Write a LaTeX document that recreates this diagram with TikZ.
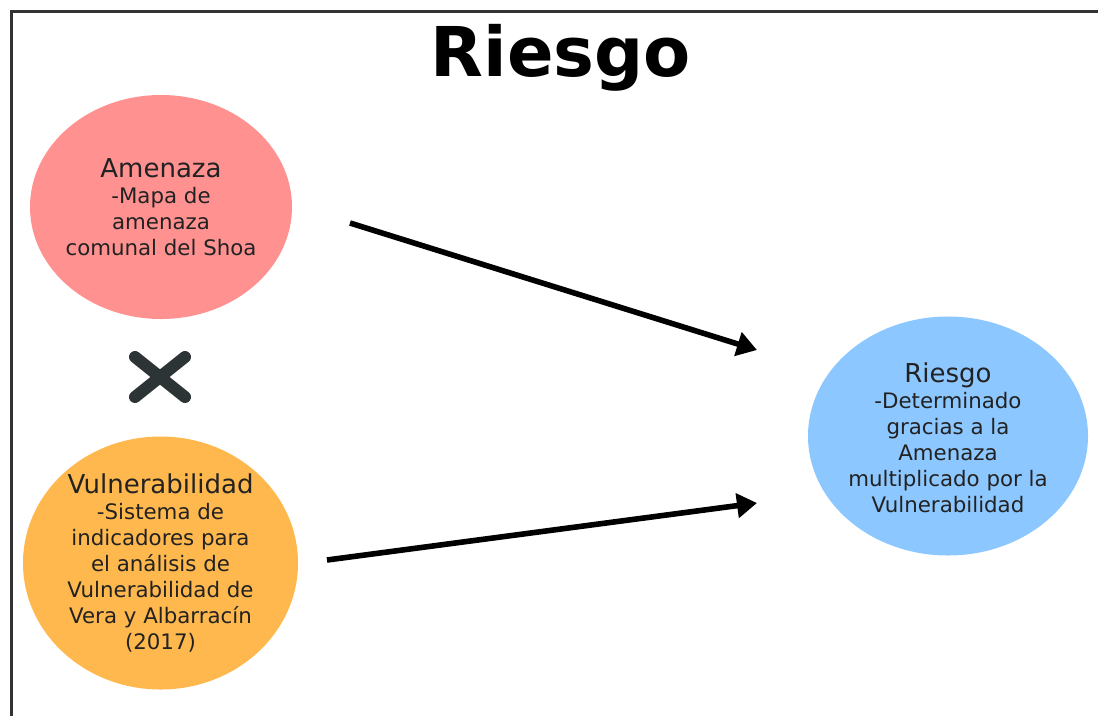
\documentclass[tikz,border=0pt]{standalone}
\usepackage{fontspec}
\setmainfont{DejaVu Sans}
\usepackage{tikz}
\usetikzlibrary{shapes,arrows,arrows.meta}

\definecolor{rosa}{RGB}{255,145,145}
\definecolor{naranja}{RGB}{255,184,77}
\definecolor{celeste}{RGB}{140,199,255}
\definecolor{texto}{RGB}{34,34,34}
\definecolor{cruz}{RGB}{45,52,54}

\tikzset{
  bubble/.style={ellipse, inner sep=0pt},
  rotulo/.style={align=center, text=texto, inner sep=0pt,
    font=\fontsize{16}{19.5}\selectfont},
  flecha/.style={-{Triangle[length=15pt,width=18pt]}, line width=4.2pt},
}
\newcommand{\encabezado}[1]{{\fontsize{19.5}{19.5}\selectfont #1}}

\begin{document}
\begin{tikzpicture}[x=0.75pt,y=0.75pt,yscale=-1,xscale=1]
    \useasboundingbox (0,0) rectangle (1098,715);

    % frame
    \draw [line width=2.25pt, color={rgb,255:red,51;green,51;blue,51}] (11,730) -- (11,11) -- (1110,11) ;

    % title
    \node (titulo) at (561,58) {\fontsize{51.5}{60}\selectfont\bfseries Riesgo};

    % bubbles
    \node [bubble, fill=rosa, minimum width=196.5pt, minimum height=168pt] (amenaza) at (161,207) {};
    \node [bubble, fill=naranja, minimum width=206.25pt, minimum height=189.75pt] (vulnerabilidad) at (160.5,563) {};
    \node [bubble, fill=celeste, minimum width=210pt, minimum height=179.25pt] (riesgo) at (948,436) {};

    % texts
    \node [rotulo] (amenaza-txt) at (amenaza)
      {\encabezado{Amenaza}\\-Mapa de\\amenaza\\comunal del Shoa};
    \node [rotulo] (vulnerabilidad-txt) at (vulnerabilidad)
      {\encabezado{Vulnerabilidad}\\-Sistema de\\indicadores para\\el análisis de\\Vulnerabilidad de\\Vera y Albarracín\\(2017)};
    \node [rotulo] (riesgo-txt) at ([yshift=1.5]riesgo.center)
      {\encabezado{Riesgo}\\-Determinado\\gracias a la\\Amenaza\\multiplicado por la\\Vulnerabilidad};

    % times sign
    \draw [cruz, line width=9pt, line cap=round] (135,357) -- (185,397) ;
    \draw [cruz, line width=9pt, line cap=round] (185,357) -- (135,397) ;

    % arrows
    \coordinate (a1) at (350,223);
    \coordinate (r1) at (757,350);
    \coordinate (v1) at (327,560);
    \coordinate (r2) at (757,503);
    \draw [flecha] (a1) -- (r1) ;
    \draw [flecha] (v1) -- (r2) ;

\end{tikzpicture}
\end{document}
